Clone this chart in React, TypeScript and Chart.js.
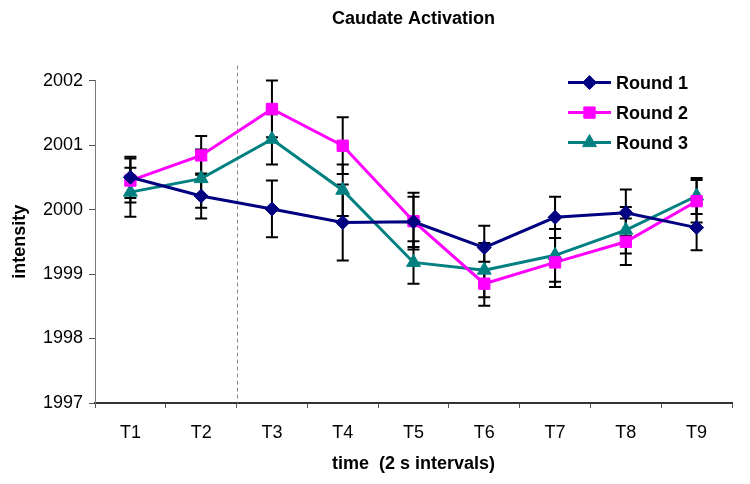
import React, { useEffect, useRef } from "react";
import { Chart, registerables } from "chart.js";
import { drawPoint } from "chart.js/helpers";

Chart.register(...registerables);

const categories = ["T1", "T2", "T3", "T4", "T5", "T6", "T7", "T8", "T9"];
const round1 = [2000.5, 2000.21, 2000.01, 1999.8, 1999.81, 1999.41, 1999.88, 1999.95, 1999.72];
const round1Err = [0.32, 0.35, 0.44, 0.59, 0.39, 0.34, 0.32, 0.36, 0.35];
const round2 = [2000.45, 2000.84, 2001.56, 2000.99, 1999.82, 1998.85, 1999.18, 1999.5, 2000.13];
const round2Err = [0.34, 0.3, 0.44, 0.44, 0.44, 0.34, 0.38, 0.36, 0.33];
const round3 = [2000.27, 2000.48, 2001.09, 2000.3, 1999.18, 1999.06, 1999.29, 1999.68, 2000.21];
const round3Err = [0.38, 0.45, 0.39, 0.4, 0.33, 0.42, 0.41, 0.36, 0.28];
const seriesNames = ["Round 1", "Round 2", "Round 3"];
const yMin = 1997;
const yMax = 2002;
const dividerAfterIndex = 1; // dashed line between T2 and T3

const colors = ["#000080", "#FF00FF", "#008080"];
const markers = ["rectRot", "rect", "triangle"];
const markerRadius = [7, 8, 8];

const SANS = "'Liberation Sans', Arial, Helvetica, sans-serif";

export default function App() {
  const ref = useRef<HTMLCanvasElement | null>(null);

  useEffect(() => {
    const canvas = ref.current;
    if (!canvas) return;
    const errs = [round1Err, round2Err, round3Err];

    const bgPlugin = {
      id: "bg",
      beforeDraw(chart: any) {
        const ctx = chart.ctx;
        ctx.save();
        ctx.fillStyle = "#ffffff";
        ctx.fillRect(0, 0, chart.width, chart.height);
        ctx.restore();
      },
    };

    const errorBarPlugin = {
      id: "errorBars",
      beforeDatasetsDraw(chart: any) {
        const ctx = chart.ctx;
        const y = chart.scales.y;
        ctx.save();
        ctx.strokeStyle = "#000000";
        ctx.lineWidth = 2;
        chart.data.datasets.forEach((ds: any, di: number) => {
          const meta = chart.getDatasetMeta(di);
          meta.data.forEach((pt: any, i: number) => {
            const v = ds.data[i];
            const e = errs[di][i];
            const x = pt.x;
            const yt = y.getPixelForValue(v + e);
            const yb = y.getPixelForValue(v - e);
            ctx.beginPath();
            ctx.moveTo(x, yt);
            ctx.lineTo(x, yb);
            ctx.moveTo(x - 6, yt);
            ctx.lineTo(x + 6, yt);
            ctx.moveTo(x - 6, yb);
            ctx.lineTo(x + 6, yb);
            ctx.stroke();
          });
        });
        ctx.restore();
      },
    };

    const dividerPlugin = {
      id: "divider",
      beforeDatasetsDraw(chart: any) {
        const ctx = chart.ctx;
        const xs = chart.scales.x;
        const x = (xs.getPixelForValue(dividerAfterIndex) + xs.getPixelForValue(dividerAfterIndex + 1)) / 2;
        const area = chart.chartArea;
        ctx.save();
        ctx.strokeStyle = "#8a8a8a";
        ctx.lineWidth = 1;
        ctx.setLineDash([4, 3]);
        ctx.beginPath();
        ctx.moveTo(Math.round(x) + 0.5, area.top - 15);
        ctx.lineTo(Math.round(x) + 0.5, area.bottom);
        ctx.stroke();
        ctx.restore();
      },
    };

    const legendPlugin = {
      id: "customLegend",
      afterDraw(chart: any) {
        const ctx = chart.ctx;
        const area = chart.chartArea;
        const x0 = area.right - 164;
        const rowY = [area.top + 2, area.top + 32, area.top + 62];
        ctx.save();
        chart.data.datasets.forEach((ds: any, di: number) => {
          const yy = rowY[di];
          ctx.strokeStyle = ds.borderColor;
          ctx.lineWidth = 3;
          ctx.beginPath();
          ctx.moveTo(x0, yy);
          ctx.lineTo(x0 + 43, yy);
          ctx.stroke();
          ctx.fillStyle = ds.backgroundColor;
          ctx.strokeStyle = ds.borderColor;
          ctx.lineWidth = 1;
          drawPoint(ctx, { pointStyle: ds.pointStyle, radius: ds.pointRadius, rotation: 0, borderWidth: 1 } as any, x0 + 21.5, yy);
          ctx.fillStyle = "#000000";
          ctx.font = `bold 18px ${SANS}`;
          ctx.textBaseline = "middle";
          ctx.textAlign = "left";
          ctx.fillText(ds.label, x0 + 48, yy + 1);
        });
        ctx.restore();
      },
    };

    const seriesData = [round1, round2, round3];

    const chart = new Chart(canvas, {
      type: "line",
      data: {
        labels: categories,
        datasets: seriesData.map((d, i) => ({
          label: seriesNames[i],
          data: d,
          borderColor: colors[i],
          backgroundColor: colors[i],
          borderWidth: 3,
          pointStyle: markers[i] as any,
          pointRadius: markerRadius[i],
          pointBorderWidth: 1,
          pointBackgroundColor: colors[i],
          pointBorderColor: colors[i],
          tension: 0,
          fill: false,
        })),
      },
      options: {
        animation: false,
        responsive: false,
        maintainAspectRatio: false,
        layout: { padding: { left: 0, right: 18, top: 0, bottom: 0 } },
        plugins: {
          legend: { display: false },
          tooltip: { enabled: false },
          title: {
            display: true,
            text: "Caudate Activation",
            fullSize: false,
            color: "#000000",
            font: { family: SANS, size: 18, weight: "bold" },
            padding: { top: 8, bottom: 51 },
          },
        },
        scales: {
          x: {
            type: "category",
            offset: true,
            grid: {
              display: true,
              offset: true,
              drawOnChartArea: false,
              drawTicks: true,
              tickLength: 5,
              tickColor: "#555555",
            },
            border: { display: true, color: "#333333", width: 2 },
            ticks: {
              color: "#000000",
              font: { family: SANS, size: 18 },
              padding: 14,
              maxRotation: 0,
              autoSkip: false,
            },
            title: {
              display: true,
              text: "time  (2 s intervals)",
              color: "#000000",
              font: { family: SANS, size: 18, weight: "bold" },
              padding: { top: 0, bottom: 9 },
            },
            afterFit(scale: any) {
              scale.height = 81;
            },
          },
          y: {
            min: yMin,
            max: yMax,
            grid: {
              display: true,
              drawOnChartArea: false,
              drawTicks: true,
              tickLength: 6,
              tickColor: "#555555",
            },
            border: { display: true, color: "#777777", width: 1 },
            ticks: {
              stepSize: 1,
              color: "#000000",
              font: { family: SANS, size: 18 },
              padding: 6,
              callback: (v: any) => String(v),
            },
            title: {
              display: true,
              text: "intensity",
              color: "#000000",
              font: { family: SANS, size: 18, weight: "bold" },
              padding: { top: 9, bottom: 0 },
            },
            afterFit(scale: any) {
              scale.width = 95;
            },
          },
        },
      },
      plugins: [bgPlugin, dividerPlugin, errorBarPlugin, legendPlugin],
    });

    return () => chart.destroy();
  }, []);

  return (
    <div style={{ position: "absolute", left: 0, top: 0, width: 750, height: 484, background: "#fff" }}>
      <canvas ref={ref} width={750} height={484} style={{ width: 750, height: 484, display: "block" }} />
    </div>
  );
}
